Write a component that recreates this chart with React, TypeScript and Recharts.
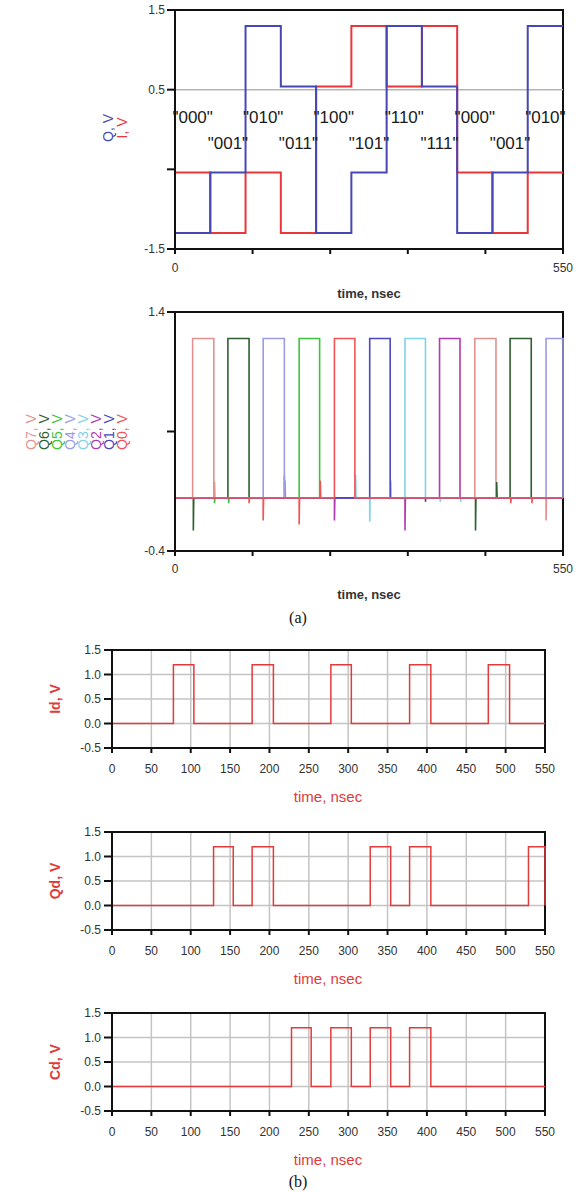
import React from "react";
import {
  LineChart,
  Line,
  XAxis,
  YAxis,
  CartesianGrid,
  ReferenceArea,
  ReferenceLine,
  ReferenceDot,
} from "recharts";

const FONT = '"Liberation Sans", Arial, sans-serif';

// ---- (a) top: I/Q levels per symbol ----
const symbolTimes = [0, 50, 100, 150, 200, 250, 300, 350, 400, 450, 500];
const symbols = ['"000"', '"001"', '"010"', '"011"', '"100"', '"101"', '"110"', '"111"', '"000"', '"001"', '"010"'];
const iLevels = [-0.54, -1.3, -0.54, -1.3, 0.54, 1.3, 0.54, 1.3, -0.54, -1.3, -0.54];
const qLevels = [-1.3, -0.54, 1.3, 0.54, -1.3, -0.54, 1.3, 0.54, -1.3, -0.54, 1.3];
const iqTicks = [0, 110, 220, 330, 440, 550];

// ---- (a) bottom: decoder outputs Q7..Q0 (pulse start/end, glitches [t, v]) ----
const qNames = ["Q7", "Q6", "Q5", "Q4", "Q3", "Q2", "Q1", "Q0"];
const qColors = ["#e2928e", "#2f5f2f", "#3cc43c", "#9b9be6", "#7fd4e8", "#b03cb0", "#4848c0", "#f05454"];
const q7Pulses = [[25, 55], [425, 455]];
const q6Pulses = [[75, 105], [475, 505]];
const q5Pulses = [[176, 205]];
const q4Pulses = [[125, 155], [526, 550]];
const q3Pulses = [[326, 355]];
const q2Pulses = [[375, 404]];
const q1Pulses = [[276, 305]];
const q0Pulses = [[226, 255]];
const q7Glitches = [[56, 0.12], [156, 0.13], [526, -0.17]];
const q6Glitches = [[26, -0.245], [426, -0.245], [456, 0.12]];
const q5Glitches = [[56, -0.04], [76, -0.04], [155, 0.17]];
const q4Glitches: number[][] = [];
const q3Glitches = [[256, 0.17], [276, -0.18], [306, 0.13], [376, -0.03], [405, -0.03]];
const q2Glitches = [[226, -0.17], [326, -0.245]];
const q1Glitches = [[355, -0.03]];
const q0Glitches = [[105, -0.04], [125, -0.17], [176, -0.2], [206, 0.13], [476, -0.04], [506, -0.04]];

// ---- (b) Id, Qd, Cd ----
const idPulses = [[78, 104], [178, 205], [278, 304], [378, 405], [478, 505]];
const qdPulses = [[129, 154], [178, 205], [328, 354], [378, 405], [529, 550]];
const cdPulses = [[228, 253], [278, 304], [328, 354], [378, 405]];
const bTimeTicks = [0, 50, 100, 150, 200, 250, 300, 350, 400, 450, 500, 550];
const bVoltTicks = [-0.5, 0, 0.5, 1, 1.5];

const HIGH = 1.2;

function buildWave(pulses: number[][], glitches: number[][]) {
  const events = [
    ...pulses.map((p) => ({ t: p[0], p, g: null as number[] | null })),
    ...glitches.map((g) => ({ t: g[0], p: null as number[] | null, g })),
  ].sort((a, b) => a.t - b.t);
  const pts: { t: number; v: number }[] = [{ t: 0, v: 0 }];
  events.forEach((e) => {
    if (e.p) {
      pts.push({ t: e.p[0], v: 0 }, { t: e.p[0], v: HIGH }, { t: e.p[1], v: HIGH }, { t: e.p[1], v: 0 });
    } else if (e.g) {
      pts.push({ t: e.g[0], v: 0 }, { t: e.g[0], v: e.g[1] }, { t: e.g[0] + 0.6, v: 0 });
    }
  });
  pts.push({ t: 550, v: 0 });
  return pts;
}

const iqData = symbolTimes.map((t, k) => ({ t, i: iLevels[k], q: qLevels[k] }));
iqData.push({ t: 550, i: iLevels[iLevels.length - 1], q: qLevels[qLevels.length - 1] });

const decoderWaves = [
  buildWave(q7Pulses, q7Glitches),
  buildWave(q6Pulses, q6Glitches),
  buildWave(q5Pulses, q5Glitches),
  buildWave(q4Pulses, q4Glitches),
  buildWave(q3Pulses, q3Glitches),
  buildWave(q2Pulses, q2Glitches),
  buildWave(q1Pulses, q1Glitches),
  buildWave(q0Pulses, q0Glitches),
];

const tickStyle = { fontSize: 12, fill: "#333", fontFamily: FONT };

function VLabel({ x, y, color, text, size = 14, weight = "normal" }: any) {
  return (
    <div
      style={{
        position: "absolute",
        left: x,
        top: y,
        transform: "translate(-50%, -50%) rotate(-90deg)",
        color,
        fontSize: size,
        fontWeight: weight,
        fontFamily: FONT,
        whiteSpace: "nowrap",
        lineHeight: 1,
      }}
    >
      {text}
    </div>
  );
}

function HLabel({ x, y, color, text, size = 13, weight = "normal", family = FONT }: any) {
  return (
    <div
      style={{
        position: "absolute",
        left: x,
        top: y,
        transform: "translate(-50%, -50%)",
        color,
        fontSize: size,
        fontWeight: weight,
        fontFamily: family,
        whiteSpace: "nowrap",
        lineHeight: 1,
      }}
    >
      {text}
    </div>
  );
}

function PulseChart({ top, pulses, name }: { top: number; pulses: number[][]; name: string }) {
  const wave = buildWave(pulses, []);
  return (
    <>
      <div style={{ position: "absolute", left: 0, top }}>
        <LineChart width={584} height={170} data={wave} margin={{ top: 10, right: 39, bottom: 0, left: 0 }}>
          <CartesianGrid stroke="#c4c4c4" strokeWidth={1.5} horizontalValues={bVoltTicks} verticalValues={bTimeTicks} />
          <XAxis
            dataKey="t"
            type="number"
            domain={[0, 550]}
            ticks={bTimeTicks}
            height={62}
            stroke="#111"
            strokeWidth={2}
            tickSize={5}
            tickMargin={11}
            tick={tickStyle}
            interval={0}
          />
          <YAxis
            type="number"
            domain={[-0.5, 1.5]}
            ticks={bVoltTicks}
            width={112}
            stroke="#111"
            strokeWidth={2}
            tickSize={8}
            tickMargin={3}
            tick={tickStyle}
            tickFormatter={(v: number) => v.toFixed(1)}
            interval={0}
          />
          <ReferenceArea x1={0} x2={550} y1={-0.5} y2={1.5} fill="none" fillOpacity={0} stroke="#111" strokeWidth={2} />
          <Line dataKey="v" type="linear" stroke="#e33b3b" strokeWidth={1.5} dot={false} isAnimationActive={false} />
        </LineChart>
      </div>
      <VLabel x={55} y={top + 59} color="#e03a3a" text={`${name}, V`} size={14} weight="bold" />
      <HLabel x={328} y={top + 156} color="#e03a3a" text="time, nsec" size={15} />
    </>
  );
}

export default function App() {
  return (
    <div style={{ position: "relative", width: 584, height: 1193, overflow: "hidden", background: "#fff" }}>
      <style>{`body{margin:0}`}</style>

      {/* (a) top: I and Q */}
      <div style={{ position: "absolute", left: 0, top: 0 }}>
        <LineChart width={584} height={300} data={iqData} margin={{ top: 10, right: 21, bottom: 0, left: 0 }}>
          <XAxis
            dataKey="t"
            type="number"
            domain={[0, 550]}
            ticks={iqTicks}
            height={51}
            stroke="#111"
            strokeWidth={2}
            tickSize={5}
            tickMargin={9}
            tick={tickStyle}
            interval={0}
            tickFormatter={(v: number) => (v === 0 || v === 550 ? String(v) : "")}
          />
          <YAxis
            type="number"
            domain={[-1.5, 1.5]}
            ticks={[-1.5, -0.5, 0.5, 1.5]}
            width={175}
            stroke="#111"
            strokeWidth={2}
            tickSize={8}
            tickMargin={2}
            tick={tickStyle}
            interval={0}
            tickFormatter={(v: number) => (v === -0.5 ? "" : String(v))}
          />
          <ReferenceLine y={0.5} stroke="#b4b4b4" strokeWidth={1.5} />
          <ReferenceArea x1={0} x2={550} y1={-1.5} y2={1.5} fill="none" fillOpacity={0} stroke="#111" strokeWidth={2} />
          <Line dataKey="i" type="stepAfter" stroke="#e8363a" strokeWidth={2} dot={false} isAnimationActive={false} />
          <Line dataKey="q" type="stepAfter" stroke="#4646b4" strokeWidth={2} dot={false} isAnimationActive={false} />
          {symbols.map((s, k) => (
            <ReferenceDot
              key={k}
              x={symbolTimes[k] + 25}
              y={k % 2 === 0 ? 0.16 : -0.17}
              r={1}
              fill="none"
              stroke="none"
              label={{ value: s, position: "center", fontSize: 17, fill: "#1a1a1a", fontFamily: FONT }}
            />
          ))}
        </LineChart>
      </div>
      <VLabel x={108} y={128} color="#4646b4" text="Q, V" />
      <VLabel x={122} y={128} color="#e8363a" text="I, V" />
      <HLabel x={369} y={293} color="#333" text="time, nsec" size={13} weight="bold" />

      {/* (a) bottom: decoder outputs */}
      <div style={{ position: "absolute", left: 0, top: 300 }}>
        <LineChart width={584} height={300} margin={{ top: 12, right: 21, bottom: 0, left: 0 }}>
          <XAxis
            dataKey="t"
            type="number"
            domain={[0, 550]}
            ticks={iqTicks}
            height={49}
            stroke="#111"
            strokeWidth={2}
            tickSize={5}
            tickMargin={8}
            tick={tickStyle}
            interval={0}
            tickFormatter={(v: number) => (v === 0 || v === 550 ? String(v) : "")}
            allowDuplicatedCategory={false}
          />
          <YAxis
            type="number"
            domain={[-0.4, 1.4]}
            ticks={[-0.4, 0.5, 1.4]}
            width={175}
            stroke="#111"
            strokeWidth={2}
            tickSize={8}
            tickMargin={2}
            tick={tickStyle}
            interval={0}
            tickFormatter={(v: number) => (v === 0.5 ? "" : String(v))}
          />
          <ReferenceArea x1={0} x2={550} y1={-0.4} y2={1.4} fill="none" fillOpacity={0} stroke="#111" strokeWidth={2} />
          {decoderWaves.map((w, k) => (
            <Line
              key={qNames[k]}
              data={w}
              dataKey="v"
              type="linear"
              stroke={qColors[k]}
              strokeWidth={1.6}
              dot={false}
              isAnimationActive={false}
            />
          ))}
        </LineChart>
      </div>
      {qNames.map((n, k) => (
        <VLabel key={n} x={31 + k * 13} y={432} color={qColors[k]} text={`${n}, V`} />
      ))}
      <HLabel x={369} y={594} color="#333" text="time, nsec" size={13} weight="bold" />

      <HLabel x={298} y={618} color="#111" text="(a)" size={16} family='"Liberation Serif", "Times New Roman", serif' />

      {/* (b) */}
      <PulseChart top={640} pulses={idPulses} name="Id" />
      <PulseChart top={822} pulses={qdPulses} name="Qd" />
      <PulseChart top={1003} pulses={cdPulses} name="Cd" />

      <HLabel x={298} y={1182} color="#111" text="(b)" size={16} family='"Liberation Serif", "Times New Roman", serif' />
    </div>
  );
}
